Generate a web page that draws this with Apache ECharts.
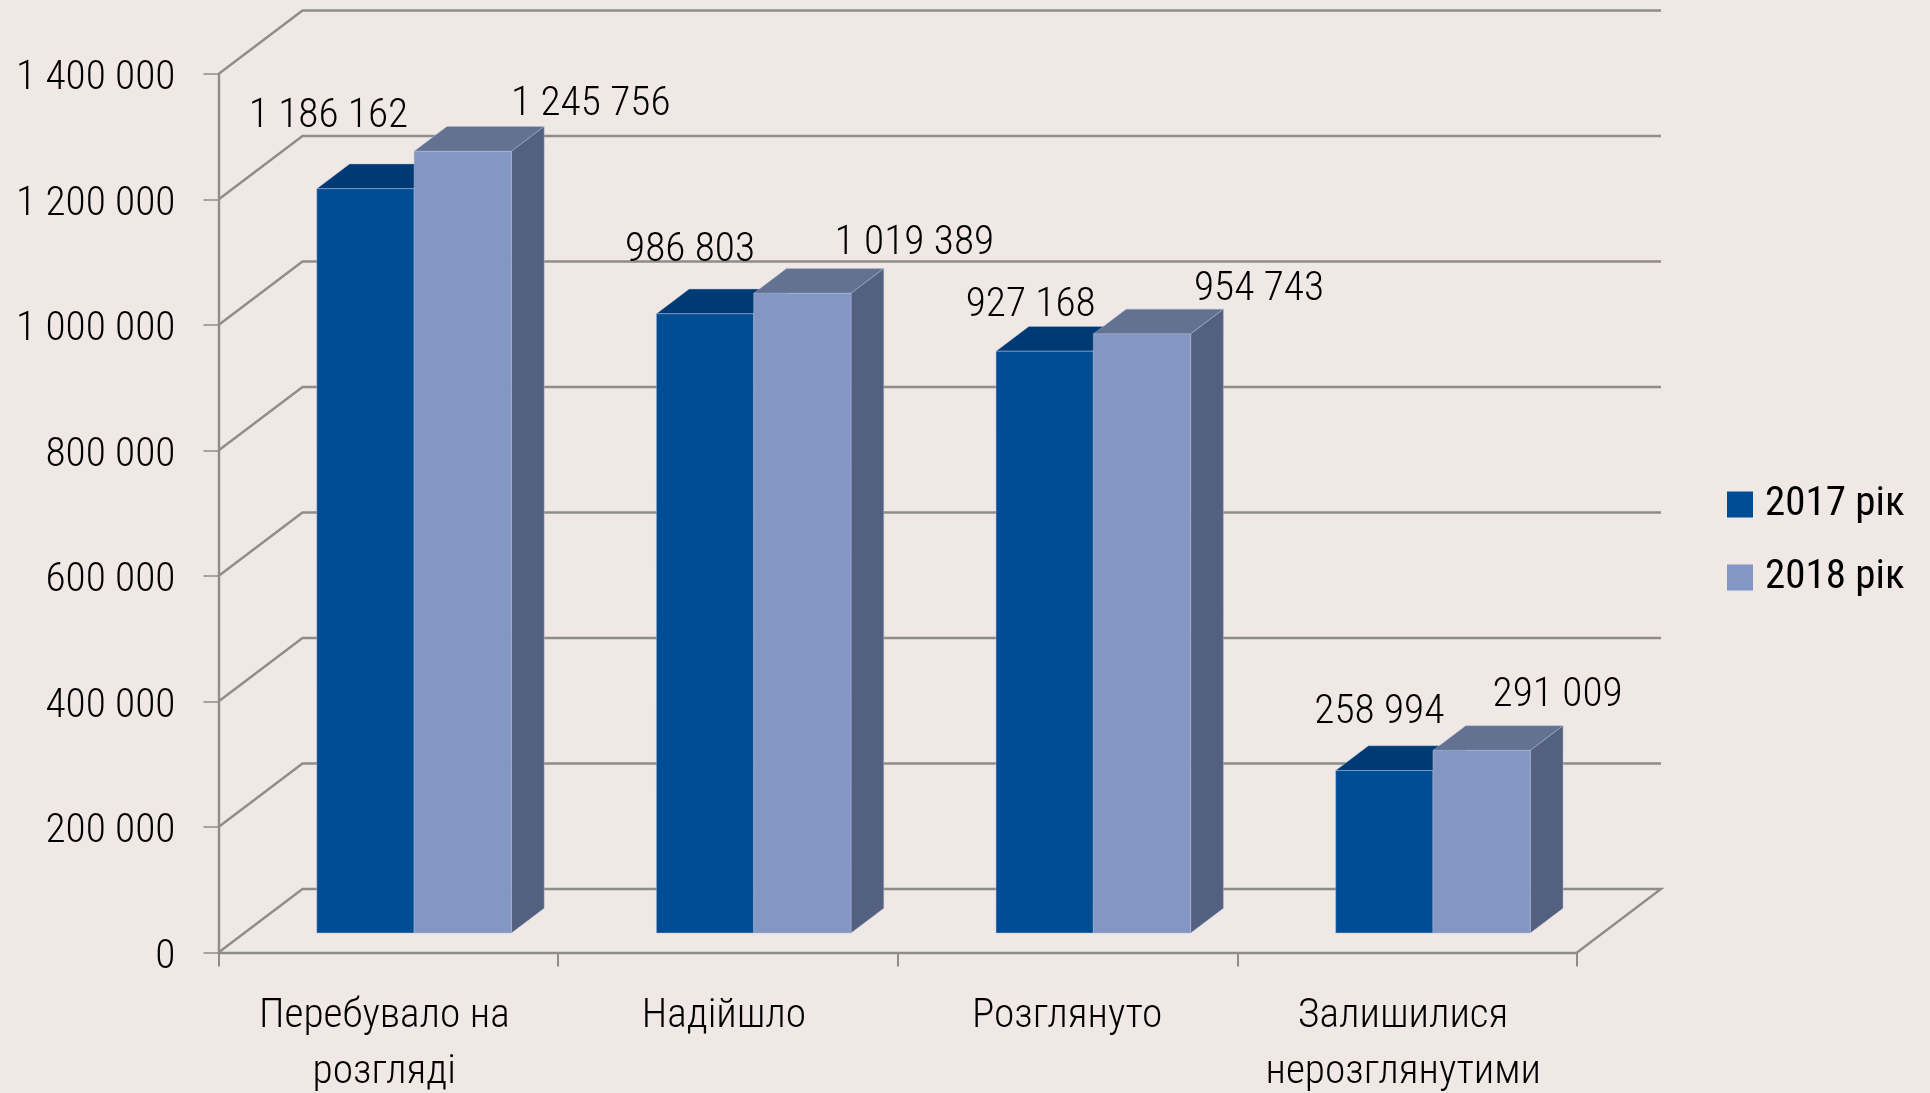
<!DOCTYPE html>
<html><head><meta charset="utf-8">
<style>html,body{margin:0;padding:0;background:#EFE8E5}#c{width:1930px;height:1093px}</style>
<script src="https://cdn.jsdelivr.net/npm/echarts@6/dist/echarts.min.js"></script>
</head><body><div id="c"></div>
<script>
const categories = ['Перебувало на\nрозгляді', 'Надійшло', 'Розглянуто', 'Залишилися\nнерозглянутими'];
const categoryRightPad = [8, 8, 1, 8];
const seriesNames = ['2017 рік', '2018 рік'];
const values2017 = [1186162, 986803, 927168, 258994];
const values2018 = [1245756, 1019389, 954743, 291009];
const yTicks = [0, 200000, 400000, 600000, 800000, 1000000, 1200000, 1400000];
// hand-placed label nudges relative to the bar's front-top centre
const labelNudge2017 = [[-37, -72], [-15, -63], [-14, -46], [-5, -58]];
const labelNudge2018 = [[128, -47], [112, -50], [117, -44], [76, -55]];

const FONT = '"Roboto Condensed",Roboto,sans-serif';
const LINE = '#8F8D8A';
const WALL_DX = 84, WALL_DY = 63.5;
const BAR_FRONT = 0.307, BAR_DEPTH = 0.39, BAR_BAND = 0.2865;
const fmt = v => String(v).replace(/\B(?=(\d{3})+$)/g, ' ');

function wall(params, api) {
  const cs = params.coordSys, y = api.coord([0, api.value(1)])[1];
  const x0 = cs.x, x1 = cs.x + cs.width;
  const pts = [[x0, y], [x0 + WALL_DX, y - WALL_DY], [x1 + WALL_DX, y - WALL_DY]];
  if (api.value(1) === 0) pts.push([x1, y]);
  return {type: 'polyline', shape: {points: pts}, style: {stroke: LINE, lineWidth: 2.4, fill: null}};
}
function bars(colors, side, nudge) {
  return function (params, api) {
    const i = api.value(0), v = api.value(1);
    const c = api.coord([i, v]), base = api.coord([i, 0]);
    const band = api.size([1, 0])[0], w = band * BAR_BAND;
    const ox = BAR_FRONT * WALL_DX, oy = BAR_FRONT * WALL_DY;
    const dx = BAR_DEPTH * WALL_DX, dy = BAR_DEPTH * WALL_DY;
    const l = c[0] + ox + side * w, r = l + w, t = c[1] - oy, b = base[1] - oy;
    const edge = {stroke: 'rgba(180,190,215,0.45)', lineWidth: 1};
    return {type: 'group', children: [
      {type: 'polygon', shape: {points: [[l, t], [l + dx, t - dy], [r + dx, t - dy], [r, t]]},
       style: Object.assign({fill: colors[1]}, edge)},
      {type: 'polygon', shape: {points: [[r, t], [r + dx, t - dy], [r + dx, b - dy], [r, b]]},
       style: Object.assign({fill: colors[2]}, edge)},
      {type: 'rect', shape: {x: l, y: t, width: w, height: b - t},
       style: Object.assign({fill: colors[0]}, edge)},
      {type: 'text', z2: 100, style: {text: fmt(v), x: l + w / 2 + nudge[i][0], y: t + nudge[i][1],
        align: 'center', verticalAlign: 'middle', fontSize: 41.4, fontWeight: 300, fontFamily: FONT, fill: '#000'}}
    ]};
  };
}
const chart = echarts.init(document.getElementById('c'), null, {width: 1930, height: 1093});
chart.setOption({
  animation: false,
  backgroundColor: '#EFE8E5',
  grid: {left: 218.5, width: 1358.5, top: 74, height: 878.5, containLabel: false, outerBoundsMode: 'none'},
  legend: {
    orient: 'vertical', left: 1722, top: 479, icon: 'rect', itemWidth: 26, itemHeight: 26, itemGap: 32,
    data: seriesNames, selectedMode: false,
    textStyle: {fontSize: 41, fontFamily: FONT, color: '#000', padding: [5, 0, 0, 7]}
  },
  xAxis: {
    type: 'category',
    data: categories.map((c, i) => ({value: c, textStyle: {padding: [0, categoryRightPad[i], 0, 0]}})),
    axisLine: {lineStyle: {color: LINE, width: 2.4}},
    axisTick: {show: true, length: 14, lineStyle: {color: LINE, width: 2}},
    axisLabel: {margin: 36.5, fontSize: 41.4, fontWeight: 300, lineHeight: 56, fontFamily: FONT, color: '#000', interval: 0, padding: [0, 8, 0, 0]}
  },
  yAxis: {
    type: 'value', min: 0, max: 1400000, interval: 200000,
    splitLine: {show: false},
    axisLine: {show: true, lineStyle: {color: LINE, width: 2.4}},
    axisTick: {show: true, length: 15, lineStyle: {color: LINE, width: 1.5}},
    axisLabel: {margin: 43, fontSize: 41.4, fontWeight: 300, fontFamily: FONT, color: '#000', formatter: fmt, verticalAlign: 'top', lineHeight: 10}
  },
  series: [
    {name: 'walls', type: 'custom', z: 1, renderItem: wall, silent: true,
     encode: {x: 0, y: 1}, data: yTicks.map(v => [0, v])},
    {name: seriesNames[0], type: 'custom', z: 2, silent: true, itemStyle: {color: '#004D96'},
     renderItem: bars(['#004D96', '#003A75', '#003A6F'], -1, labelNudge2017),
     encode: {x: 0, y: 1}, data: values2017.map((v, i) => [i, v])},
    {name: seriesNames[1], type: 'custom', z: 3, silent: true, itemStyle: {color: '#8496C3'},
     renderItem: bars(['#8496C3', '#637291', '#546080'], 0, labelNudge2018),
     encode: {x: 0, y: 1}, data: values2018.map((v, i) => [i, v])}
  ]
});
</script></body></html>
